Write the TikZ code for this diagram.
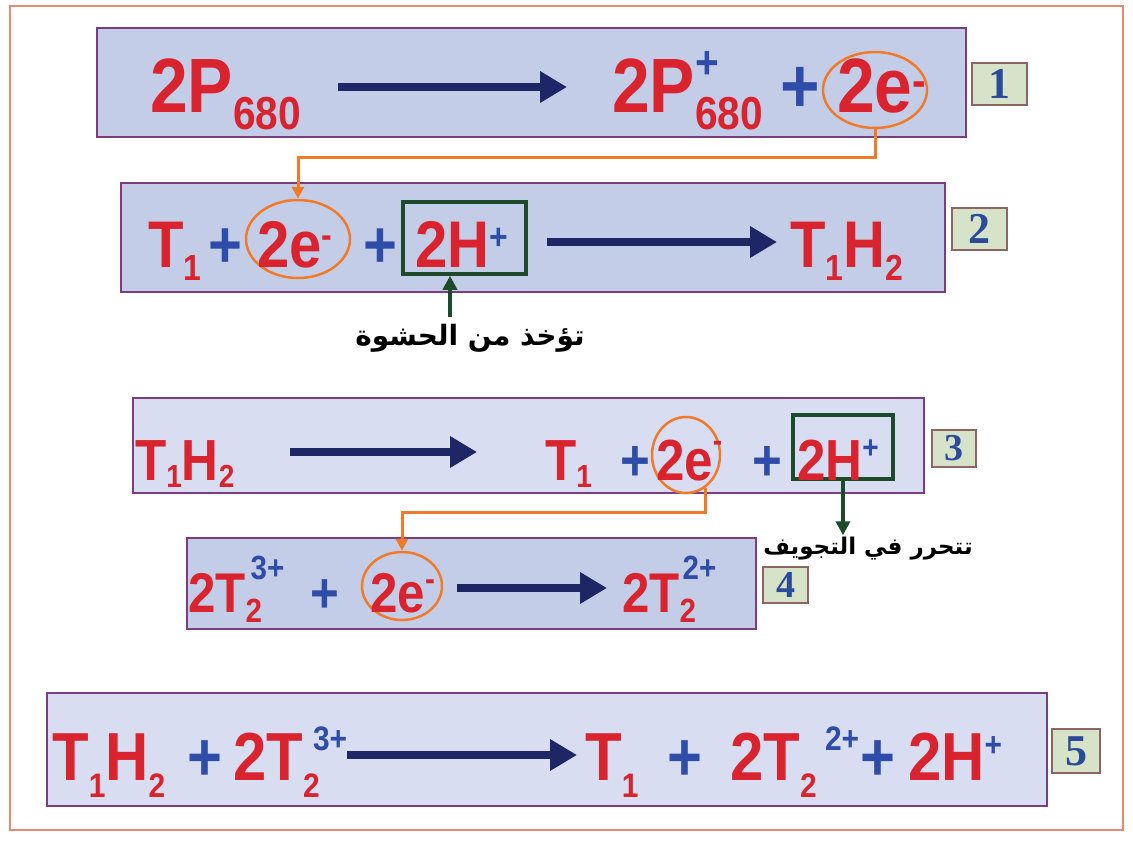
\documentclass[tikz,border=0pt]{standalone}
\usepackage{fontspec}
\usepackage{graphicx}
\usepackage{tikz}
\usetikzlibrary{arrows.meta, shapes.geometric, positioning}
\newfontfamily\eqfont{Liberation Sans}[FakeStretch=0.88]
\newfontfamily\numfont{Liberation Serif}
\newfontfamily\arabicfont[Script=Arabic]{DejaVu Sans}
\TeXXeTstate=1
\definecolor{mRed}{HTML}{D9232E}
\definecolor{mBlue}{HTML}{2F4DA8}
\definecolor{mNavy}{HTML}{1F2666}
\definecolor{mOrange}{HTML}{F07A2A}
\definecolor{mGreen}{HTML}{1E4A2C}
\definecolor{mPurple}{HTML}{7A3E80}
\definecolor{mFill}{HTML}{C4CDE7}
\definecolor{mFillLight}{HTML}{D8DDF1}
\definecolor{mTag}{HTML}{D7E3C9}
\definecolor{mTagLine}{HTML}{8E6565}
\definecolor{mNum}{HTML}{2B4A9A}
\definecolor{mFrame}{HTML}{E38B73}

% sub/superscripts scaled from the row font
\newcommand{\subscale}{0.55}
\newcommand{\lodrop}{0.2em}
\newcommand{\hilift}{0.4em}
\newcommand{\lo}[2][\lodrop]{\raisebox{-#1}{\scalebox{\subscale}{#2}}}
\newcommand{\hi}[2][\hilift]{\raisebox{#1}{\scalebox{\subscale}{#2}}}
\newcommand{\both}[3][0pt]{\rlap{\lo{#2}}\hspace{#1}\hi{#3}}
\newcommand{\chg}[1]{\textcolor{mBlue}{#1}}
\newcommand{\rowfont}[4]{\eqfont\bfseries\fontsize{#1}{#1}\selectfont
  \def\subscale{#2}\def\lodrop{#3}\def\hilift{#4}}

\begin{document}
\begin{tikzpicture}[x=1pt, y=-1pt,
    term/.style={anchor=base west, inner sep=0pt, text=mRed},
    pl/.style={text=mBlue},
    r1/.style={term, font=\rowfont{77}{0.6}{0.23em}{0.44em}},
    r2/.style={term, font=\rowfont{66}{0.55}{0.21em}{0.27em}},
    r3/.style={term, font=\rowfont{58}{0.55}{0.13em}{0.37em}},
    r4/.style={term, font=\rowfont{56}{0.6}{0.19em}{0.58em}},
    r5/.style={term, font=\rowfont{68}{0.5}{0.26em}{0.43em}},
    eqbox/.style={rectangle, draw=mPurple, line width=2.5pt, inner sep=0pt},
    tag/.style={rectangle, draw=mTagLine, fill=mTag, line width=2pt, inner sep=0pt, text=mNum,
        font=\numfont\bfseries\fontsize{44}{44}\selectfont},
    ering/.style={ellipse, draw=mOrange, line width=2.5pt, inner sep=0pt},
    gbox/.style={rectangle, draw=mGreen, line width=3.5pt, inner sep=0pt},
    note/.style={inner sep=2pt, text=black},
    rxn/.style={line width=8pt, mNavy, -{Triangle[length=27pt,width=30pt]}},
    eflow/.style={line width=3pt, mOrange, -{Triangle[length=12pt,width=12pt]}},
    gflow/.style={line width=3.5pt, mGreen, -{Triangle[length=14pt,width=14pt]}}
]
    \useasboundingbox (0,0) rectangle (1133,841);
    \node[draw=mFrame, line width=2pt, minimum width=1113pt, minimum height=824pt, inner sep=0pt] (frame) at (566.5,418) {};

    \node[eqbox, fill=mFill, minimum width=869pt, minimum height=109pt] (box1) at (531.5,82.5) {};
    \node[eqbox, fill=mFill, minimum width=824pt, minimum height=109pt] (box2) at (533,237.5) {};
    \node[eqbox, fill=mFillLight, minimum width=791pt, minimum height=95pt] (box3) at (528.5,445.5) {};
    \node[eqbox, fill=mFill, minimum width=569pt, minimum height=91pt] (box4) at (471.5,583.5) {};
    \node[eqbox, fill=mFillLight, minimum width=1000pt, minimum height=113pt] (box5) at (547,749.5) {};

    \node[tag, minimum width=55pt, minimum height=42pt] (num1) at (999.5,84) {1};
    \node[tag, minimum width=55pt, minimum height=42pt] (num2) at (979.5,229) {2};
    \node[tag, minimum width=44pt, minimum height=37pt, font=\numfont\bfseries\fontsize{38}{38}\selectfont] (num3) at (954,448.5) {3};
    \node[tag, minimum width=45pt, minimum height=36pt, font=\numfont\bfseries\fontsize{38}{38}\selectfont] (num4) at (785.5,585) {4};
    \node[tag, minimum width=48pt, minimum height=44pt] (num5) at (1076,751) {5};

    \node[ering, minimum width=104pt, minimum height=76pt] (e1) at (875,90) {};
    \node[ering, minimum width=104pt, minimum height=78pt] (e2) at (298,239) {};
    \node[ering, minimum width=68pt, minimum height=76pt] (e3) at (686,455) {};
    \node[ering, minimum width=80pt, minimum height=68pt] (e4) at (402,586) {};
    \node[gbox, minimum width=123pt, minimum height=72pt] (g2) at (464.5,238) {};
    \node[gbox, minimum width=100pt, minimum height=64pt] (g3) at (843,447) {};

    \node[r1] (p680) at (150,112) {2P\lo{680}};
    \node[r1] (p680ox) at (612,112) {2P\both{680}{\chg{+}}};
    \node[r1, pl] (plus1) at (780,112) {+};
    \node[r1] (el1) at (837,112) {2e\hi[0.2em]{-}};

    \node[r2] (t1a) at (148,267) {T\lo{1}};
    \node[r2, pl] (plus2a) at (208,267) {+};
    \node[r2] (el2) at (257,267) {2e\hi[0.3em]{-}};
    \node[r2, pl] (plus2b) at (363,267) {+};
    \node[r2] (hp2) at (415,267) {2H\hi{\chg{+}}};
    \node[r2] (t1h2a) at (790,267) {T\lo{1}H\lo{2}};

    \node[r3] (t1h2b) at (135,480) {T\lo{1}H\lo{2}};
    \node[r3] (t1b) at (545,480) {T\lo{1}};
    \node[r3, pl] (plus3a) at (620,480) {+};
    \node[r3] (el3) at (656,480) {2e\hi[0.5em]{-}};
    \node[r3, pl] (plus3b) at (752,480) {+};
    \node[r3] (hp3) at (797,480) {2H\hi{\chg{+}}};

    \node[r4] (t2a) at (188,612) {2T\both[5pt]{2}{\chg{3+}}};
    \node[r4, pl] (plus4) at (310,612) {+};
    \node[r4] (el4) at (370,612) {2e\hi[0.38em]{-}};
    \node[r4] (t2b) at (622,612) {2T\both[3pt]{2}{\chg{2+}}};

    \node[r5] (t1h2c) at (52,780) {T\lo{1}H\lo{2}};
    \node[r5, pl] (plus5a) at (187,780) {+};
    \node[r5] (t2c) at (233,780) {2T\both[10pt]{2}{\chg{3+}}};
    \node[r5] (t1c) at (585,780) {T\lo{1}};
    \node[r5, pl] (plus5b) at (667,780) {+};
    \node[r5] (t2d) at (730,780) {2T\both[25pt]{2}{\chg{2+}}};
    \node[r5, pl] (plus5c) at (860,780) {+};
    \node[r5] (hp5) at (908,780) {2H\hi[0.35em]{\chg{+}}};

    \node[note, font=\arabicfont\bfseries\fontsize{28}{28}\selectfont] (take) at (470,338) {\beginR تؤخذ من الحشوة\endR};
    \node[note, font=\arabicfont\bfseries\fontsize{23}{23}\selectfont] (free) at (868,549) {\beginR تتحرر في التجويف\endR};

    \coordinate (a1s) at (338,87);  \coordinate (a1e) at (567,87);
    \coordinate (a2s) at (547,242); \coordinate (a2e) at (777,242);
    \coordinate (a3s) at (290,452); \coordinate (a3e) at (477,452);
    \coordinate (a4s) at (457,588); \coordinate (a4e) at (607,588);
    \coordinate (a5s) at (347,755); \coordinate (a5e) at (577,755);
    \draw[rxn] (a1s) -- (a1e);
    \draw[rxn] (a2s) -- (a2e);
    \draw[rxn] (a3s) -- (a3e);
    \draw[rxn] (a4s) -- (a4e);
    \draw[rxn] (a5s) -- (a5e);

    \coordinate (hop1) at (0,157);
    \coordinate (hop3) at (0,512);
    \draw[eflow] (e1.south) -- (e1.south |- hop1) -| (e2.north);
    \draw[eflow] (e3.-60) -- (e3.-60 |- hop3) -| (e4.north);

    \coordinate (up2) at (450,317);
    \draw[gflow] (up2) -- (up2 |- g2.south);
    \draw[gflow] (g3.south) -- (g3.south |- free.north);
\end{tikzpicture}
\end{document}
